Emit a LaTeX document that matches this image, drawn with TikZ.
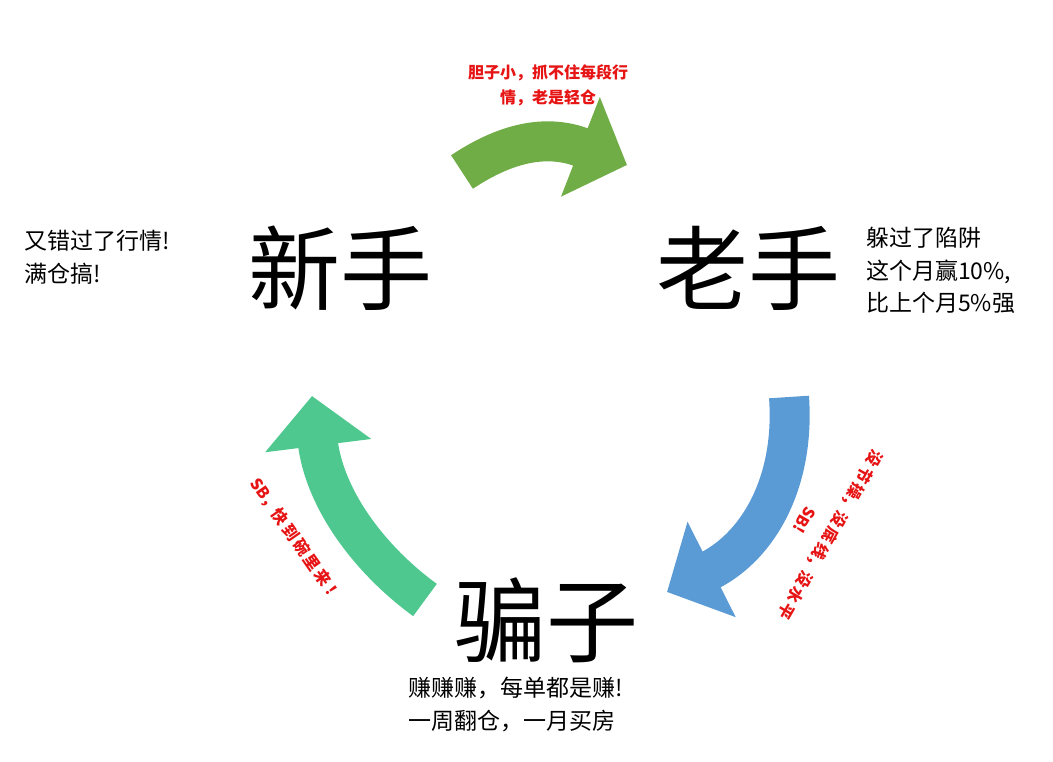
\documentclass[tikz,border=0pt]{standalone}
\usepackage{fontspec}
\setmainfont{Noto Sans CJK SC}
\usetikzlibrary{arrows.meta}
\definecolor{gr}{RGB}{112,173,71}
\definecolor{bl}{RGB}{91,155,213}
\definecolor{tl}{RGB}{78,200,143}
\definecolor{rd}{RGB}{230,20,20}
\tikzset{
 big/.style={font=\fontsize{92}{94}\selectfont},
 small/.style={font=\fontsize{23}{32.5}\selectfont,align=left,anchor=north west,inner sep=0},
 red/.style={text=rd,font=\bfseries\fontsize{16}{25}\selectfont,align=center,inner sep=0},
 band/.style={line width=40pt,line cap=butt,-{Triangle[length=50pt,width=104pt]}}
}
\begin{document}
\begin{tikzpicture}[x=1pt,y=-1pt]
\useasboundingbox (0,0) rectangle (1053,762);
\node[big] (xs) at (340,268) {新手};
\node[big] (ls) at (748,268) {老手};
\node[big] (pz) at (546,620) {骗子};
\node[small] (t1) at (24,230) {又错过了行情!\\满仓搞!};
\node[small] (t2) at (866,227) {躲过了陷阱\\这个月赢10\%,\\比上个月5\%强};
\node[small] (t3) at (408,677) {赚赚赚，每单都是赚!\\一周翻仓，一月买房};
\node[red] (r1) at (548,85) {胆子小，抓不住每段行\\情，老是轻仓};
\node[red,rotate=-120,font=\bfseries\fontsize{16}{30}\selectfont] (r2) at (818,528) {没\,节\,操，没\,底\,线，没\,水\,平\\SB!};
\node[red,rotate=-55] (r3) at (296,540) {SB，快\,到\,碗\,里\,来\,！};
\coordinate (ga) at (462,172); \coordinate (gb) at (627,165);
\coordinate (ba) at (789,397); \coordinate (bb) at (667,592);
\coordinate (ta) at (425,600); \coordinate (tb) at (312,396);
\draw[band,gr] (ga) .. controls (510,140) and (550,135) .. (gb);
\draw[band,bl] (ba) .. controls (795,480) and (760,545) .. (bb);
\draw[band,tl] (ta) .. controls (370,560) and (325,500) .. (tb);
\end{tikzpicture}
\end{document}
